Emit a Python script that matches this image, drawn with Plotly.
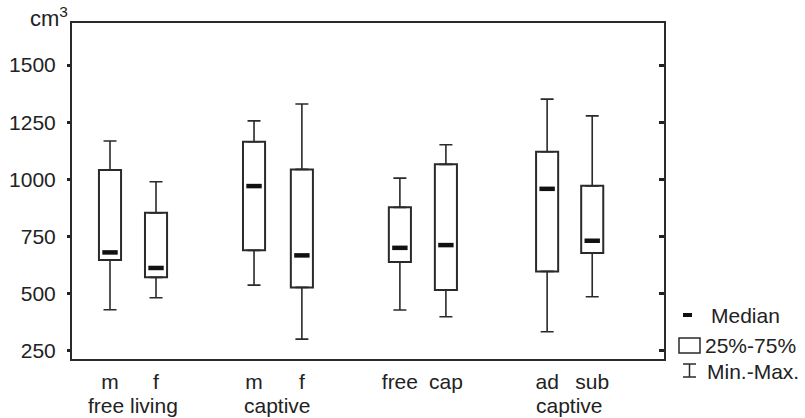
import plotly.graph_objects as go

# ---- data ----
labels = ["m", "f", "m", "f", "free", "cap", "ad", "sub"]
group_labels = ["free living", "captive", "", "captive"]
minimum = [430, 483, 538, 302, 429, 400, 334, 487]
q1 = [648, 572, 690, 528, 639, 517, 598, 678]
median = [681, 613, 971, 668, 701, 713, 959, 732]
q3 = [1041, 854, 1165, 1044, 878, 1066, 1121, 972]
maximum = [1168, 990, 1256, 1330, 1006, 1152, 1351, 1278]
y_ticks = [250, 500, 750, 1000, 1250, 1500]

# ---- layout helpers ----
positions = [1, 2, 4.13, 5.17, 7.3, 8.3, 10.5, 11.48]
W, H = 805, 418
ML, MR, MT, MB = 72, 141, 23, 59
PW, PH = W - ML - MR, H - MT - MB


def px(x):
    return (x - ML) / PW


def py(y):
    return (H - MB - y) / PH


INK = "#2a2a2a"
FONT = dict(family="Liberation Sans, Arial, sans-serif", size=21, color="#222")

fig = go.Figure()

# boxes (25%-75%)
fig.add_trace(go.Bar(
    x=positions, y=[b - a for a, b in zip(q1, q3)], base=q1, width=0.48,
    marker=dict(color="white", line=dict(color=INK, width=2)),
    showlegend=False, hoverinfo="skip"))

# upper whiskers
fig.add_trace(go.Scatter(
    x=positions, y=q3, mode="markers", marker=dict(size=1, opacity=0),
    error_y=dict(type="data", symmetric=False,
                 array=[b - a for a, b in zip(q3, maximum)],
                 arrayminus=[0] * len(q3), width=6.5, thickness=1.6, color=INK),
    showlegend=False, hoverinfo="skip"))

# lower whiskers
fig.add_trace(go.Scatter(
    x=positions, y=q1, mode="markers", marker=dict(size=1, opacity=0),
    error_y=dict(type="data", symmetric=False,
                 array=[0] * len(q1),
                 arrayminus=[a - b for a, b in zip(q1, minimum)],
                 width=6.5, thickness=1.6, color=INK),
    showlegend=False, hoverinfo="skip"))

# medians
fig.add_trace(go.Scatter(
    x=positions, y=median, mode="markers",
    marker=dict(symbol="line-ew", size=11, line=dict(color="#111", width=4.5)),
    showlegend=False, hoverinfo="skip"))

# invisible trace to anchor right axis
fig.add_trace(go.Scatter(x=[positions[0]], y=[median[0]], yaxis="y2",
                         mode="markers", marker=dict(opacity=0),
                         showlegend=False, hoverinfo="skip"))

yr = [215, 1684]
fig.update_layout(
    width=W, height=H,
    margin=dict(l=ML, r=MR, t=MT, b=MB, autoexpand=False),
    paper_bgcolor="white", plot_bgcolor="white",
    font=FONT,
    xaxis=dict(range=[0.174, 13.04], tickvals=positions, ticktext=labels,
               ticks="", showgrid=False, zeroline=False, automargin=False,
               showline=True, linecolor=INK, linewidth=2, mirror=True,
               tickfont=FONT, ticklabelstandoff=3),
    yaxis=dict(range=yr, tickvals=y_ticks, ticks="outside", ticklen=3,
               tickwidth=3, tickcolor="#222", showgrid=False, zeroline=False,
               showline=True, linecolor=INK, linewidth=2, mirror=True,
               automargin=False, tickfont=FONT, ticklabelstandoff=7),
    yaxis2=dict(range=yr, tickvals=y_ticks, ticks="inside", ticklen=5,
                tickwidth=3, tickcolor="#222", overlaying="y", side="right",
                showticklabels=False, showgrid=False, zeroline=False,
                showline=False, automargin=False),
)

annotations = []
# group labels
for i, g in enumerate(group_labels):
    if g:
        xm = (positions[2 * i] + positions[2 * i + 1]) / 2
        annotations.append(dict(x=xm, xref="x", y=py(418), yref="paper",
                                text=g, showarrow=False, font=FONT,
                                borderpad=0, xanchor="center",
                                yanchor="bottom"))
# unit label
annotations.append(dict(x=px(70), y=py(33), xref="paper", yref="paper",
                        text="cm<sup>3</sup>", showarrow=False,
                        font=dict(FONT, size=22),
                        xanchor="right", yanchor="bottom"))
# legend texts
for txt, xl, yc in [("Median", 709, 315), ("25%-75%", 703, 345),
                    ("Min.-Max.", 705, 371)]:
    annotations.append(dict(x=px(xl), y=py(yc), xref="paper", yref="paper",
                            text=txt, showarrow=False, font=FONT,
                            xanchor="left", yanchor="middle"))
fig.update_layout(annotations=annotations)

shapes = [
    # median symbol
    dict(type="rect", xref="paper", yref="paper", x0=px(683), x1=px(692),
         y0=py(317), y1=py(313), fillcolor="#111", line=dict(width=0)),
    # box symbol
    dict(type="rect", xref="paper", yref="paper", x0=px(679), x1=px(700),
         y0=py(353), y1=py(338), fillcolor="white",
         line=dict(color=INK, width=1.5)),
    # min-max symbol
    dict(type="line", xref="paper", yref="paper", x0=px(689.5), x1=px(689.5),
         y0=py(377), y1=py(364), line=dict(color=INK, width=1.5)),
    dict(type="line", xref="paper", yref="paper", x0=px(683), x1=px(696),
         y0=py(364), y1=py(364), line=dict(color=INK, width=1.5)),
    dict(type="line", xref="paper", yref="paper", x0=px(683), x1=px(696),
         y0=py(377), y1=py(377), line=dict(color=INK, width=1.5)),
]
fig.update_layout(shapes=shapes)

fig.write_html(
    "out.html",
    config={"displayModeBar": False},
    post_script="document.body.style.margin='0';document.body.style.padding='0';"
                "document.body.style.overflow='hidden';",
)
